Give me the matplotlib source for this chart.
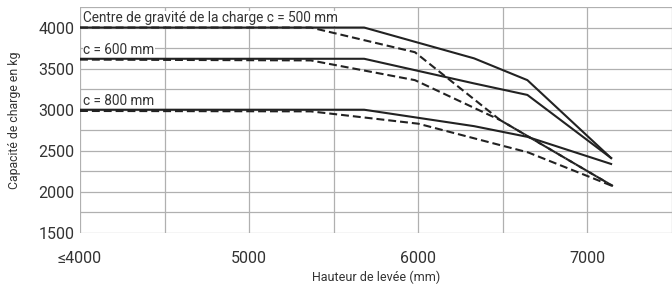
import matplotlib
matplotlib.use('Agg')
import matplotlib.pyplot as plt

plt.rcParams['font.family'] = ['Roboto', 'DejaVu Sans']

# solid curves (mast type 1)
x_s500 = [4000, 5680, 6330, 6645, 7140]
y_s500 = [4000, 4000, 3625, 3360, 2412]
x_s600 = [4000, 5680, 6330, 6645, 7140]
y_s600 = [3620, 3620, 3320, 3180, 2412]
x_s800 = [4000, 5680, 6330, 6645, 7140]
y_s800 = [3000, 3000, 2800, 2670, 2340]

# dashed curves (mast type 2)
x_d500 = [4000, 5365, 5980, 6485, 7150]
y_d500 = [4000, 4000, 3700, 2873, 2072]
x_d600 = [4000, 5365, 5980, 6485, 7150]
y_d600 = [3610, 3600, 3360, 2873, 2072]
x_d800 = [4000, 5365, 6000, 6650, 7150]
y_d800 = [2985, 2980, 2830, 2480, 2070]

labels = ['Centre de gravité de la charge c = 500 mm', 'c = 600 mm', 'c = 800 mm']
label_y = [4000, 3620, 3000]

xticks = [4000, 5000, 6000, 7000]
xticklabels = ['≤4000', '5000', '6000', '7000']
yticks = [1500, 2000, 2500, 3000, 3500, 4000]

fig = plt.figure(figsize=(6.72, 2.86), dpi=100)
ax = fig.add_axes([80 / 672, 1 - 233 / 286, 1 - 80 / 672, 226 / 286])

line_col = '#222222'
for xs, ys in [(x_s500, y_s500), (x_s600, y_s600), (x_s800, y_s800)]:
    ax.plot(xs, ys, '-', color=line_col, lw=1.5, zorder=3)
for xs, ys in [(x_d500, y_d500), (x_d600, y_d600), (x_d800, y_d800)]:
    ax.plot(xs, ys, '--', color=line_col, lw=1.5, dashes=(3.8, 1.9), zorder=3)

for lab, yv in zip(labels, label_y):
    ax.text(4020, yv + 25, lab, fontsize=9.8, color='#333333', va='bottom', ha='left',
            zorder=4, bbox=dict(facecolor='white', edgecolor='none', pad=0.3))

ax.set_xlim(4000, 7460)
ax.set_ylim(1500, 4250)
for s in ax.spines.values():
    s.set_visible(False)

ax.set_xticks(xticks)
ax.set_xticklabels(xticklabels)
ax.set_xticks(range(4500, 7501, 1000), minor=True)
ax.set_yticks(yticks)
ax.set_yticks(range(1750, 4251, 500), minor=True)
ax.grid(True, which='both', color='#b0b0b0', lw=0.9)
ax.set_axisbelow(True)
ax.tick_params(which='both', length=0, labelsize=11.5, labelcolor='#333333')
ax.tick_params(axis='x', pad=13)
ax.tick_params(axis='y', pad=4)

ax.set_xlabel('Hauteur de levée (mm)', fontsize=9, color='#333333', labelpad=3)
ax.set_ylabel('Capacité de charge en kg', fontsize=8.8, color='#333333')
ax.yaxis.set_label_coords(-0.1, 0.5)

fig.savefig('out.png', dpi=100)
